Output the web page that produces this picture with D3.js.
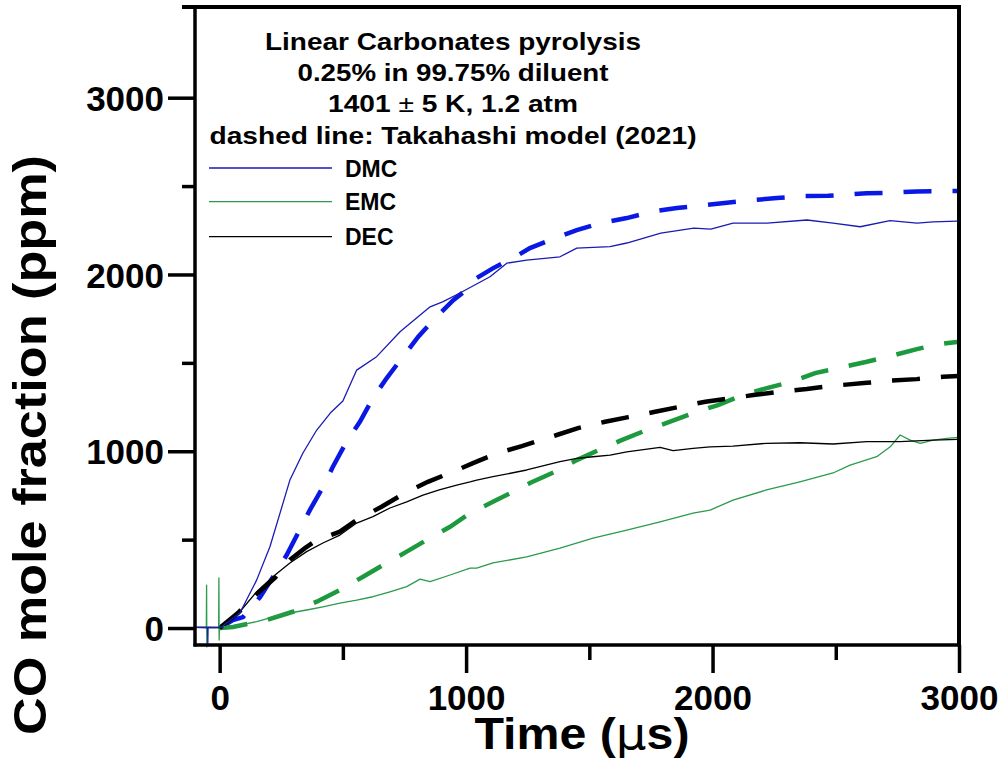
<!DOCTYPE html>
<html><head><meta charset="utf-8">
<script src="https://cdn.jsdelivr.net/npm/d3@7"></script>
<style>body{margin:0;background:#fff}svg{display:block}text{font-family:"Liberation Sans",Arial,sans-serif;font-weight:bold}</style>
</head><body>
<svg id="c" width="1000" height="775"></svg>
<script>
// ---- data (time in µs, CO in ppm) ----
const dmcExp = [[-100,4],[-60,3],[-49,2],[-48,-85],[-47,3],[-10,2],[0,3],[9,7],[82,85],[150,271],[204,460],[245,650],[285,837],[338,990],[394,1120],[449,1216],[500,1284],[556,1459],[637,1535],[732,1676],[854,1817],[907,1846],[975,1895],[1097,1987],[1165,2064],[1246,2081],[1381,2100],[1449,2149],[1584,2157],[1652,2178],[1790,2234],[1924,2262],[1993,2257],[2083,2291],[2221,2291],[2383,2308],[2489,2291],[2599,2270],[2720,2304],[2830,2291],[2895,2298],[2992,2302]];
const emcExp = [[-100,4],[-54,4],[-53,243],[-52,-107],[-51,4],[-4,4],[-3,283],[-2,-68],[-1,4],[8,7],[82,17],[150,36],[216,62],[285,85],[353,102],[419,120],[488,141],[556,158],[622,177],[691,205],[759,234],[813,277],[854,262],[935,300],[1016,339],[1043,339],[1109,368],[1246,403],[1381,452],[1515,509],[1652,554],[1787,601],[1921,650],[1990,667],[2083,724],[2219,781],[2354,827],[2489,877],[2558,922],[2666,969],[2721,1025],[2761,1092],[2802,1063],[2843,1045],[2895,1063],[2950,1073],[2996,1079]];
const decExp = [[-100,4],[-50,3],[0,3],[8,7],[82,92],[150,205],[216,290],[285,368],[353,432],[419,481],[488,526],[556,594],[622,630],[691,679],[759,714],[825,752],[891,781],[962,809],[1016,827],[1043,837],[1109,856],[1246,894],[1381,941],[1449,960],[1515,969],[1584,978],[1652,997],[1787,1022],[1840,1003],[1921,1016],[1990,1025],[2083,1029],[2220,1045],[2354,1048],[2489,1041],[2626,1054],[2761,1054],[2895,1063],[2996,1067]];
const dmcModel = [[0,0],[54,45],[95,62],[164,175],[216,288],[272,413],[318,537],[366,667],[419,797],[459,911],[515,1054],[569,1167],[622,1301],[678,1414],[744,1535],[806,1648],[875,1753],[948,1855],[1017,1930],[1043,1980],[1110,2036],[1199,2100],[1259,2149],[1361,2206],[1449,2251],[1550,2292],[1652,2319],[1753,2355],[1855,2376],[1962,2392],[2058,2406],[2164,2421],[2261,2432],[2367,2443],[2469,2445],[2626,2459],[2720,2462],[2829,2470],[2935,2472],[3000,2472]];
const emcModel = [[0,0],[54,6],[191,45],[297,92],[394,149],[488,215],[582,290],[663,356],[759,432],[840,498],[935,573],[1016,650],[1109,714],[1205,781],[1259,820],[1361,884],[1449,950],[1538,1007],[1631,1063],[1733,1120],[1828,1167],[1936,1223],[2022,1261],[2123,1318],[2220,1357],[2321,1393],[2416,1442],[2626,1506],[2720,1538],[2829,1578],[2923,1606],[3000,1620]];
const decModel = [[0,0],[74,85],[155,198],[224,283],[285,385],[346,452],[394,498],[488,545],[556,611],[657,686],[752,764],[845,827],[947,884],[1028,933],[1129,990],[1226,1029],[1368,1092],[1454,1131],[1564,1167],[1658,1193],[1767,1223],[1861,1250],[1971,1280],[2072,1299],[2166,1318],[2275,1337],[2382,1352],[2477,1369],[2626,1387],[2720,1399],[2829,1408],[2935,1421],[3000,1425]];
const xTicks = [0,1000,2000,3000];
const xMinor = [500,1500,2500];
const yTicks = [0,1000,2000,3000];
const yMinor = [500,1500,2500];
const noteLines = ["Linear Carbonates pyrolysis","0.25% in 99.75% diluent","1401 \u00B1 5 K, 1.2 atm","dashed line: Takahashi model (2021)"];
const legendNames = ["DMC","EMC","DEC"];

const colors = {dmc:"#1a1ab4", emc:"#2b9a4c", dec:"#000000", dmcD:"#0a18e6", emcD:"#1d9a3e", decD:"#000000"};

const svg = d3.select("#c");
const L=195, R=959, T=7, B=645;
const x = d3.scaleLinear().domain([-100,3000]).range([L,R]);
const y = d3.scaleLinear().domain([-96,3513]).range([B,T]);

const line = d3.line().x(d=>x(d[0])).y(d=>y(d[1]));

// model dashed lines
[[dmcModel,colors.dmcD],[emcModel,colors.emcD],[decModel,colors.decD]].forEach(([d,c])=>{
  svg.append("path").attr("d",line(d)).attr("fill","none").attr("stroke",c)
    .attr("stroke-width",4.5).attr("stroke-dasharray","28,21");
});
// experimental thin lines
[[emcExp,colors.emc],[decExp,colors.dec],[dmcExp,colors.dmc]].forEach(([d,c])=>{
  svg.append("path").attr("d",line(d)).attr("fill","none").attr("stroke",c)
    .attr("stroke-width",1.3).attr("stroke-linejoin","round");
});

// axes
const ax = svg.append("g").attr("transform",`translate(0,${B})`)
  .call(d3.axisBottom(x).tickValues(xTicks).tickSize(28).tickPadding(12).tickFormat(d3.format("d")));
const axm = svg.append("g").attr("transform",`translate(0,${B})`)
  .call(d3.axisBottom(x).tickValues(xMinor).tickSize(15).tickFormat(""));
const ay = svg.append("g").attr("transform",`translate(${L},0)`)
  .call(d3.axisLeft(y).tickValues(yTicks).tickSize(27).tickPadding(4).tickFormat(d3.format("d")));
const aym = svg.append("g").attr("transform",`translate(${L},0)`)
  .call(d3.axisLeft(y).tickValues(yMinor).tickSize(13).tickFormat(""));
[ax,axm,ay,aym].forEach(g=>{
  g.select(".domain").remove();
  g.selectAll("line").attr("stroke","#000").attr("stroke-width",3.5);
  g.selectAll("text").attr("fill","#000").style("font-size","35px").style("font-weight","bold")
   .style("font-family","'Liberation Sans',Arial,sans-serif");
});
ay.selectAll("text").attr("dy","0.36em");

// frame lines
svg.append("line").attr("x1",L).attr("x2",L).attr("y1",T).attr("y2",B+1.5).attr("stroke","#000").attr("stroke-width",3.5);
svg.append("line").attr("x1",L-1.5).attr("x2",R).attr("y1",B).attr("y2",B).attr("stroke","#000").attr("stroke-width",3.5);
svg.append("line").attr("x1",182).attr("x2",R+2).attr("y1",T).attr("y2",T).attr("stroke","#000").attr("stroke-width",4);
svg.append("line").attr("x1",R).attr("x2",R).attr("y1",T).attr("y2",B).attr("stroke","#000").attr("stroke-width",4);

// axis titles
svg.append("text").attr("transform","translate(46,445) rotate(-90)").attr("text-anchor","middle")
  .style("font-size","46px").attr("textLength",580).attr("lengthAdjust","spacingAndGlyphs")
  .text("CO mole fraction (ppm)");
const xt = svg.append("text").attr("x",582).attr("y",749).attr("text-anchor","middle").style("font-size","44px")
  .attr("textLength",215).attr("lengthAdjust","spacingAndGlyphs");
xt.append("tspan").text("Time (");
xt.append("tspan").text("\u03BC").style("font-family","'DejaVu Sans',sans-serif").style("font-weight","normal");
xt.append("tspan").text("s)");

// annotation
const noteY = [50,81,112,144];
const noteW = [376,311,250,487];
noteLines.forEach((t,i)=>{
  const tx = svg.append("text").attr("x",453).attr("y",noteY[i]).attr("text-anchor","middle")
    .style("font-size","24px").attr("textLength",noteW[i]).attr("lengthAdjust","spacingAndGlyphs");
  if (t.includes("\u00B1")) {
    const p = t.split("\u00B1");
    tx.append("tspan").text(p[0]);
    tx.append("tspan").text("\u00B1").style("font-weight","normal");
    tx.append("tspan").text(p[1]);
  } else tx.text(t);
});

// legend
const legY = [168,201.7,236.7];
const legC = [colors.dmc, colors.emc, colors.dec];
legendNames.forEach((n,i)=>{
  svg.append("line").attr("x1",209).attr("x2",332).attr("y1",legY[i]).attr("y2",legY[i])
    .attr("stroke",legC[i]).attr("stroke-width",1.3);
  svg.append("text").attr("x",345).attr("y",legY[i]+8.5).style("font-size","23px").text(n);
});
</script>
</body></html>
